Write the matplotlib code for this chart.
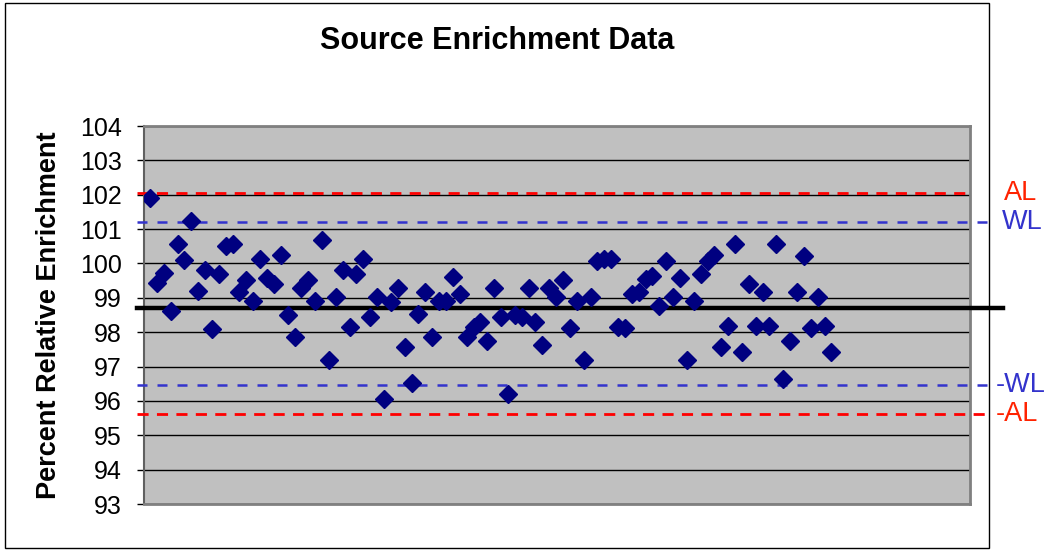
import numpy as np
import matplotlib
matplotlib.use("Agg")
import matplotlib.pyplot as plt
from matplotlib.patches import Rectangle

plt.rcParams['font.family'] = ['Liberation Sans', 'DejaVu Sans']

# --------------------------------------------
# DATA
# --------------------------------------------
enrichment = [
    101.91, 99.42, 99.71, 98.62, 100.56, 100.09, 101.25, 99.19, 99.82, 98.10,
    99.69, 100.51, 100.58, 99.18, 99.53, 98.90, 100.12, 99.58, 99.41, 100.24,
    98.50, 97.87, 99.30, 99.53, 98.90, 100.68, 97.18, 99.02, 99.82, 98.16,
    99.69, 100.12, 98.43, 99.02, 96.06, 98.88, 99.30, 97.57, 96.52, 98.54,
    99.18, 97.87, 98.90, 98.90, 99.60, 99.12, 97.87, 98.16, 98.30, 97.73,
    99.30, 98.43, 96.20, 98.50, 98.43, 99.30, 98.30, 97.62, 99.30, 99.02,
    99.53, 98.13, 98.90, 97.18, 99.02, 100.06, 100.12, 100.12, 98.16, 98.13,
    99.12, 99.18, 99.55, 99.63, 98.75, 100.06, 99.02, 99.58, 97.18, 98.90,
    99.69, 100.06, 100.24, 97.57, 98.17, 100.58, 97.42, 99.41, 98.17, 99.18,
    98.17, 100.58, 96.65, 97.73, 99.18, 100.23, 98.13, 99.02, 98.17, 97.42,
]
sample = np.arange(1, len(enrichment) + 1)
n_categories = 120

mean_level = 98.70
al_upper, al_lower = 102.04, 95.62
wl_upper, wl_lower = 101.22, 96.46

y_ticks = list(range(93, 105))

# --------------------------------------------
# FIGURE
# --------------------------------------------
fig = plt.figure(figsize=(10.47, 5.5), dpi=100)
fig.patch.set_facecolor('white')

# chart area border
fig.patches.append(Rectangle((5 / 1047, 2 / 550), 984 / 1047, 545 / 550,
                             transform=fig.transFigure, fill=False,
                             edgecolor='black', linewidth=1.0))

ax = fig.add_axes([144 / 1047, 1 - 504 / 550, 826 / 1047, 378 / 550])
ax.set_facecolor('#C0C0C0')

ax.set_ylim(93, 104)
ax.set_xlim(0.13, n_categories + 0.13)
ax.set_yticks(y_ticks)
ax.set_xticks([])
ax.tick_params(axis='y', labelsize=18, length=5, width=1, color='black', pad=11)
ax.yaxis.grid(True, color='black', linewidth=1.0)
ax.set_axisbelow(True)

for side in ['top', 'right', 'bottom']:
    ax.spines[side].set_color('#808080')
    ax.spines[side].set_linewidth(2)
ax.spines['left'].set_color('#606060')
ax.spines['left'].set_linewidth(1.5)

# limit lines, drawn past the plot area like the original
ytrans = ax.get_yaxis_transform()
ax.plot([-0.008, 1.003], [al_upper, al_upper], transform=ytrans, clip_on=False,
        color='#FF0000', linewidth=2, dashes=(4, 3), zorder=3)
ax.plot([-0.008, 1.022], [al_lower, al_lower], transform=ytrans, clip_on=False,
        color='#FF0000', linewidth=2, dashes=(4, 3), zorder=3)
ax.plot([-0.008, 1.022], [wl_upper, wl_upper], transform=ytrans, clip_on=False,
        color='#3333CC', linewidth=1.8, dashes=(4, 4), zorder=3)
ax.plot([-0.008, 1.022], [wl_lower, wl_lower], transform=ytrans, clip_on=False,
        color='#3333CC', linewidth=1.8, dashes=(4, 4), zorder=3)
ax.plot([-0.008, 1.04], [mean_level, mean_level], transform=ytrans, clip_on=False,
        color='black', linewidth=3.2, zorder=3)

# data
ax.plot(sample, enrichment, linestyle='none', marker='D', markersize=9,
        color='#000080', zorder=4)

# limit labels
ax.text(1.041, al_upper, 'AL', transform=ytrans, color='#FF2200', fontsize=19.5,
        ha='left', va='center')
ax.text(1.038, wl_upper, 'WL', transform=ytrans, color='#3333CC', fontsize=19.5,
        ha='left', va='center')
ax.text(1.031, wl_lower, '-WL', transform=ytrans, color='#3333CC', fontsize=19.5,
        ha='left', va='center')
ax.text(1.031, al_lower, '-AL', transform=ytrans, color='#FF2200', fontsize=19.5,
        ha='left', va='center')

ax.set_ylabel('Percent Relative Enrichment', fontsize=19.5, fontweight='bold',
              va='center')
ax.yaxis.set_label_coords(-0.115, 0.5)

fig.text(497 / 1047, 1 - 41 / 550, 'Source Enrichment Data', fontsize=22,
         fontweight='bold', ha='center', va='center')

fig.savefig('out.png', dpi=100)
